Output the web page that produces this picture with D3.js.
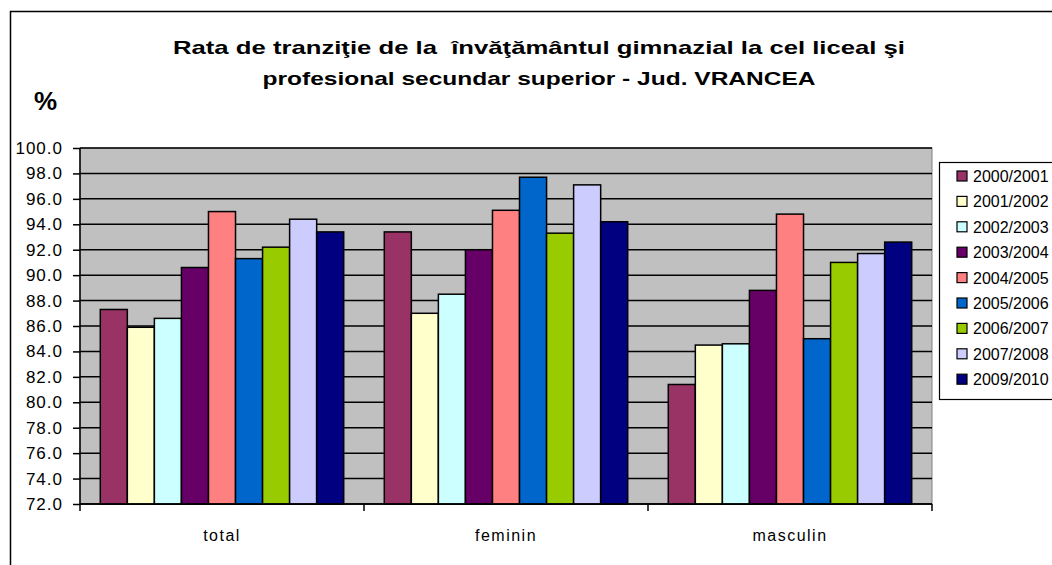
<!DOCTYPE html>
<html>
<head>
<meta charset="utf-8">
<script src="https://cdn.jsdelivr.net/npm/d3@7"></script>
<style>
  html, body { margin: 0; padding: 0; background: #fff; overflow: hidden; }
  svg { display: block; font-family: "Liberation Sans", Arial, sans-serif; }
</style>
</head>
<body>
<svg id="chart" width="1052" height="565"></svg>
<script>
const categories = ["total", "feminin", "masculin"];
const seriesNames = ["2000/2001", "2001/2002", "2002/2003", "2003/2004", "2004/2005", "2005/2006", "2006/2007", "2007/2008", "2009/2010"];
const seriesColors = ["#993366", "#FFFFCC", "#CCFFFF", "#660066", "#FF8080", "#0066CC", "#99CC00", "#CCCCFF", "#000080"];
const v2000 = [87.3, 93.4, 81.4];
const v2001 = [85.9, 87.0, 84.5];
const v2002 = [86.6, 88.5, 84.6];
const v2003 = [90.6, 92.0, 88.8];
const v2004 = [95.0, 95.1, 94.8];
const v2005 = [91.3, 97.7, 85.0];
const v2006 = [92.2, 93.3, 91.0];
const v2007 = [94.4, 97.1, 91.7];
const v2009 = [93.4, 94.2, 92.6];
const seriesValues = [v2000, v2001, v2002, v2003, v2004, v2005, v2006, v2007, v2009];
const yTicks = d3.range(72, 100.01, 2);
const titleLines = ["Rata de tranziţie de la  învăţământul gimnazial la cel liceal şi", "profesional secundar superior - Jud. VRANCEA"];
const titleWidths = [732, 553];

const svg = d3.select("#chart");
const plot = {left: 80, right: 932, top: 148, bottom: 504};

// outer chart border (only top & left visible)
svg.append("path").attr("d", "M10.5,1060 L10.5,11.5 L1060,11.5")
  .attr("fill", "none").attr("stroke", "#000").attr("stroke-width", 1.5);

// title
svg.append("g").selectAll("text").data(titleLines).join("text")
  .attr("x", 539).attr("y", (d, i) => 54 + i * 31)
  .attr("text-anchor", "middle").attr("font-weight", "bold").attr("font-size", 19)
  .style("white-space", "pre")
  .attr("textLength", (d, i) => titleWidths[i]).attr("lengthAdjust", "spacingAndGlyphs")
  .text(d => d);

svg.append("text").attr("x", 34).attr("y", 110).attr("font-weight", "bold")
  .attr("font-size", 26).text("%");

const x0 = d3.scaleBand().domain(categories).range([plot.left, plot.right]).padding(0);
const bw = x0.bandwidth();
const barW = bw / (seriesNames.length + 1.5);
const x1 = d3.scaleBand().domain(seriesNames)
  .range([barW * 0.75, bw - barW * 0.75]).padding(0);
const y = d3.scaleLinear().domain([72, 100]).range([plot.bottom, plot.top]);

// plot area
svg.append("rect").attr("x", plot.left).attr("y", plot.top)
  .attr("width", plot.right - plot.left).attr("height", plot.bottom - plot.top)
  .attr("fill", "#C0C0C0").attr("stroke", "#808080").attr("stroke-width", 1);

// gridlines
svg.append("g").selectAll("line").data(yTicks).join("line")
  .attr("x1", plot.left).attr("x2", plot.right)
  .attr("y1", d => y(d)).attr("y2", d => y(d))
  .attr("stroke", "#000").attr("stroke-width", 1.5);

// bars
const rows = [];
seriesNames.forEach((s, si) => categories.forEach((c, ci) => rows.push({s, si, c, v: seriesValues[si][ci]})));
svg.append("g").selectAll("rect").data(rows).join("rect")
  .attr("x", d => x0(d.c) + x1(d.s))
  .attr("y", d => y(d.v))
  .attr("width", x1.bandwidth())
  .attr("height", d => y(72) - y(d.v))
  .attr("fill", d => seriesColors[d.si])
  .attr("stroke", "#000").attr("stroke-width", 1.5);

// y axis
const yAxis = d3.axisLeft(y).tickValues(yTicks).tickFormat(d3.format(".1f")).tickSize(7).tickPadding(10);
const gy = svg.append("g").attr("transform", `translate(${plot.left},0)`).call(yAxis);
gy.select(".domain").attr("stroke", "#000").attr("stroke-width", 1.5).attr("d", `M0,${plot.top}V${plot.bottom}`);
gy.selectAll(".tick line").attr("stroke", "#000").attr("stroke-width", 1.5);
gy.selectAll(".tick text").attr("font-size", 17).attr("fill", "#000")
  .attr("letter-spacing", 1)
  .attr("font-family", "'Liberation Sans', Arial, sans-serif");

// x axis
const gx = svg.append("g").attr("transform", `translate(0,${plot.bottom})`);
gx.append("line").attr("x1", plot.left).attr("x2", plot.right).attr("stroke", "#000").attr("stroke-width", 1.5);
const boundaries = categories.map(c => x0(c)).concat([plot.right]);
gx.selectAll("line.tk").data(boundaries).join("line").attr("class", "tk")
  .attr("x1", d => d).attr("x2", d => d).attr("y1", 0).attr("y2", 7)
  .attr("stroke", "#000").attr("stroke-width", 1.5);
gx.selectAll("text").data(categories).join("text")
  .attr("x", d => x0(d) + bw / 2).attr("y", 37)
  .attr("text-anchor", "middle").attr("font-size", 16).attr("letter-spacing", 1.5).text(d => d);

// legend
const lg = svg.append("g");
lg.append("rect").attr("x", 939.5).attr("y", 162.5).attr("width", 130).attr("height", 237)
  .attr("fill", "#fff").attr("stroke", "#000").attr("stroke-width", 1.2);
const items = lg.selectAll("g.item").data(seriesNames).join("g").attr("class", "item")
  .attr("transform", (d, i) => `translate(957,${176 + i * 25.4})`);
items.append("rect").attr("x", 0).attr("y", -5).attr("width", 10).attr("height", 10)
  .attr("fill", (d, i) => seriesColors[i]).attr("stroke", "#000").attr("stroke-width", 1.2);
items.append("text").attr("x", 16).attr("y", 6).attr("font-size", 16).text(d => d);
</script>
</body>
</html>
